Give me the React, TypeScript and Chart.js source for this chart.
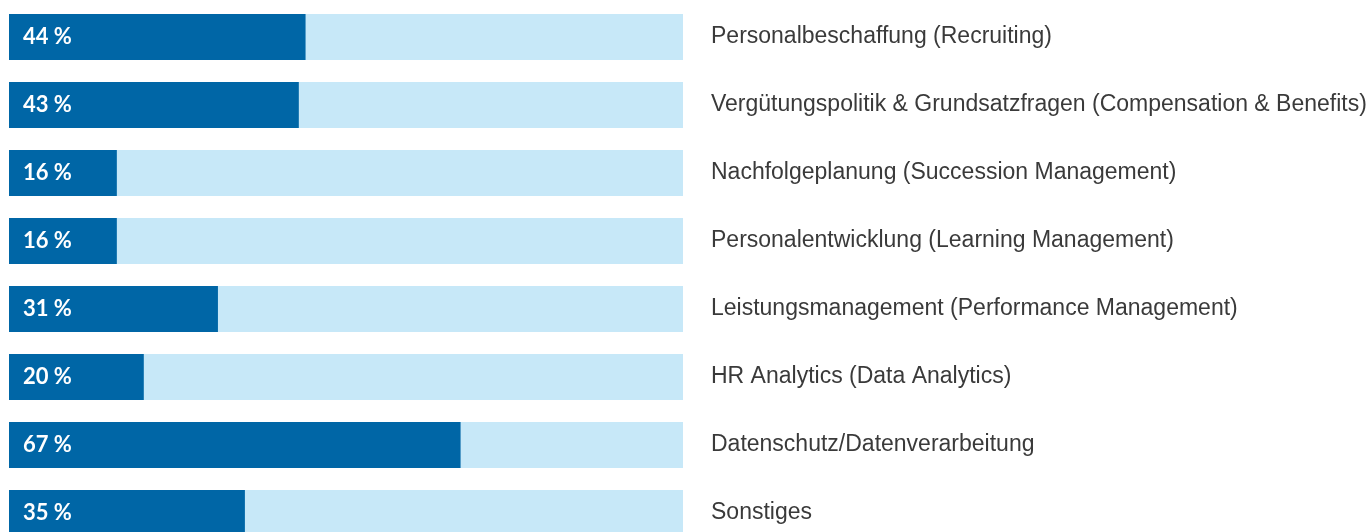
import React, { useEffect, useRef } from "react";
import { Chart, registerables } from "chart.js";

Chart.register(...registerables);

const categories = [
  "Personalbeschaffung (Recruiting)",
  "Vergütungspolitik & Grundsatzfragen (Compensation & Benefits)",
  "Nachfolgeplanung (Succession Management)",
  "Personalentwicklung (Learning Management)",
  "Leistungsmanagement (Performance Management)",
  "HR Analytics (Data Analytics)",
  "Datenschutz/Datenverarbeitung",
  "Sonstiges",
];

const shareValues = [44, 43, 16, 16, 31, 20, 67, 35];
const trackValues = [100, 100, 100, 100, 100, 100, 100, 100];

const DARK = "#0066A6";
const LIGHT = "#C7E8F8";

const valueLabelPlugin = {
  id: "valueLabels",
  afterDatasetsDraw(chart: any) {
    const meta = chart.getDatasetMeta(0);
    const ctx = chart.ctx;
    ctx.save();
    ctx.fillStyle = "#ffffff";
    ctx.font = "bold 22px Lato, 'Open Sans', sans-serif";
    ctx.textAlign = "left";
    ctx.textBaseline = "middle";
    meta.data.forEach((bar: any, i: number) => {
      ctx.fillText(shareValues[i] + " %", bar.base + 14, bar.y);
    });
    ctx.restore();
  },
};

export default function App() {
  const canvasRef = useRef<HTMLCanvasElement | null>(null);

  useEffect(() => {
    if (!canvasRef.current) return;
    const chart = new Chart(canvasRef.current, {
      type: "bar",
      data: {
        labels: categories,
        datasets: [
          {
            data: shareValues,
            backgroundColor: DARK,
            grouped: false,
            categoryPercentage: 1,
            barPercentage: 46 / 68,
            borderWidth: 0,
          },
          {
            data: trackValues,
            backgroundColor: LIGHT,
            grouped: false,
            categoryPercentage: 1,
            barPercentage: 46 / 68,
            borderWidth: 0,
          },
        ],
      },
      options: {
        indexAxis: "y",
        responsive: false,
        animation: false,
        devicePixelRatio: 1,
        layout: { padding: { left: 9, top: 3, bottom: 13, right: 0 } },
        plugins: {
          legend: { display: false },
          tooltip: { enabled: false },
        },
        scales: {
          x: { display: false, min: 0, max: 100 },
          y: {
            position: "right",
            grid: { display: false, drawTicks: false },
            border: { display: false },
            ticks: {
              padding: 28,
              color: "#3a3a3a",
              font: { family: "'Liberation Sans', Arial, sans-serif", size: 23 },
            },
            afterFit(axis: any) {
              axis.width = 1370 - 683;
              axis.paddingTop = 0;
              axis.paddingBottom = 0;
            },
          },
        },
      },
      plugins: [valueLabelPlugin],
    });
    return () => chart.destroy();
  }, []);

  return (
    <div
      style={{
        position: "fixed",
        left: 0,
        top: 0,
        width: 1370,
        height: 532,
        overflow: "hidden",
        background: "#ffffff",
      }}
    >
      <div style={{ width: 1370, height: 560 }}>
        <canvas ref={canvasRef} width={1370} height={560} style={{ display: "block" }} />
      </div>
    </div>
  );
}
